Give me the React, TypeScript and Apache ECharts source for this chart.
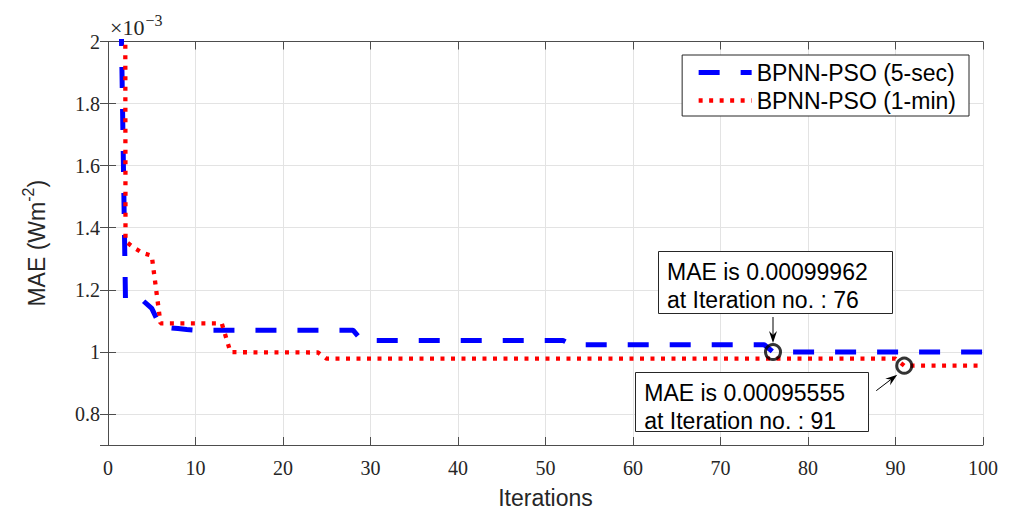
import React, { useEffect, useRef } from "react";
import * as echarts from "echarts";

// Data (MAE values in units of 1e-3, as plotted)
const seriesNames = ["BPNN-PSO (5-sec)", "BPNN-PSO (1-min)"];
const blueIter = [1, 2, 4, 5, 6, 7, 8, 9, 10, 28, 29, 52, 53, 75, 76, 100];
const blueMAE = [3.0, 1.165, 1.165, 1.14, 1.082, 1.078, 1.075, 1.072, 1.07, 1.07, 1.037, 1.037, 1.023, 1.023, 0.99962, 0.99962];
const redIter = [1, 2, 3, 4, 5, 6, 13, 14, 24, 25, 90, 91, 100];
const redMAE = [30, 1.356, 1.335, 1.318, 1.31, 1.092, 1.092, 0.999, 0.998, 0.978, 0.978, 0.95555, 0.95555];
const markIter = [76, 91];
const markMAE = [0.00099962, 0.00095555];
const xRange = [0, 100];
const xStep = 10;
const yRange = [0.7, 2];
const yStep = 0.2;
const expBase = "×10";
const expPower = "−3";

const SANS = '"Liberation Sans", Arial, sans-serif';
const SERIF = '"Liberation Serif", "Times New Roman", serif';
const AX = "#4d4d4d";
const TXT = "#262626";

function measure(text: string, font: string) {
  const c = document.createElement("canvas").getContext("2d");
  if (!c) return text.length * 10;
  c.font = font;
  return c.measureText(text).width;
}

function arrow(x1: number, y1: number, x2: number, y2: number) {
  const dx = x2 - x1, dy = y2 - y1;
  const L = Math.hypot(dx, dy);
  const ux = dx / L, uy = dy / L;
  const px = -uy, py = ux;
  const headLen = 12, headW = 4, notch = 8;
  const bx = x2 - ux * headLen, by = y2 - uy * headLen;
  const nx = x2 - ux * notch, ny = y2 - uy * notch;
  return [
    { type: "line", z: 100, shape: { x1, y1, x2: nx, y2: ny }, style: { stroke: "#000", lineWidth: 1 } },
    {
      type: "polygon", z: 100,
      shape: { points: [[x2, y2], [bx + px * headW, by + py * headW], [nx, ny], [bx - px * headW, by - py * headW]] },
      style: { fill: "#000" },
    },
  ];
}

function box(x: number, y: number, w: number, h: number, lines: string[]) {
  return [
    { type: "rect", z: 100, shape: { x: Math.round(x) + 0.5, y: Math.round(y) + 0.5, width: w, height: h }, style: { fill: "#fff", stroke: TXT, lineWidth: 1 } },
    {
      type: "text", z: 101,
      style: { text: lines.join("\n"), x: x + 9, y: y + 7, fontSize: 23, fontFamily: SANS, lineHeight: 28, verticalAlign: "top", fill: "#000" },
    },
  ];
}

export default function App() {
  const ref = useRef<HTMLDivElement>(null);
  useEffect(() => {
    document.body.style.margin = "0";
    const chart = echarts.init(ref.current!, null, { renderer: "svg" });
    const axisLine = { show: true, lineStyle: { color: AX, width: 1 } };
    const axisTick = { show: true, inside: true, length: 8, lineStyle: { color: AX, width: 1 } };
    const option: any = {
      animation: false,
      grid: { left: 108, right: 28, top: 41.5, bottom: 64, containLabel: false },
      legend: {
        data: seriesNames,
        orient: "vertical",
        right: 42,
        top: 55,
        padding: [6, 13, 4, 14],
        itemWidth: 53,
        itemHeight: 14,
        itemGap: 5,
        selectedMode: false,
        borderColor: TXT,
        borderWidth: 1,
        backgroundColor: "#fff",
        itemStyle: { opacity: 0 },
        lineStyle: { width: "inherit" },
        textStyle: { fontSize: 23, fontFamily: SANS, color: "#000" },
      },
      xAxis: [
        {
          type: "value", min: xRange[0], max: xRange[1], interval: xStep, position: "bottom",
          name: "Iterations", nameLocation: "middle", nameGap: 41,
          nameTextStyle: { fontSize: 23, fontFamily: SANS, color: TXT },
          axisLine, axisTick,
          axisLabel: { fontSize: 20, fontFamily: SERIF, color: TXT, margin: 13 },
          splitLine: { show: true, lineStyle: { color: "#e3e3e3", width: 1 } },
        },
        {
          type: "value", min: xRange[0], max: xRange[1], interval: xStep, position: "top",
          axisLine, axisTick, axisLabel: { show: false }, splitLine: { show: false },
        },
      ],
      yAxis: [
        {
          type: "value", min: yRange[0], max: yRange[1], splitNumber: 6, minInterval: yStep, maxInterval: yStep,
          position: "left",
          name: "{m|MAE (Wm}{sup|-2}{m|)}", nameLocation: "middle", nameGap: 60,
          nameTextStyle: {
            fontSize: 23, fontFamily: SANS, color: TXT,
            rich: {
              m: { fontSize: 23, fontFamily: SANS, color: TXT, lineHeight: 28, verticalAlign: "bottom" },
              sup: { fontSize: 16, fontFamily: SANS, color: TXT, lineHeight: 16, verticalAlign: "top" },
            },
          },
          axisLine, axisTick,
          axisLabel: { fontSize: 20, fontFamily: SERIF, color: TXT, margin: 8, showMinLabel: false },
          splitLine: { show: true, lineStyle: { color: "#e3e3e3", width: 1 } },
        },
        {
          type: "value", min: yRange[0], max: yRange[1], splitNumber: 6, minInterval: yStep, maxInterval: yStep,
          position: "right",
          axisLine, axisTick, axisLabel: { show: false }, splitLine: { show: false },
        },
      ],
      series: [
        {
          name: seriesNames[0], type: "line", symbol: "none", showSymbol: false,
          data: blueIter.map((x, i) => [x, blueMAE[i]]),
          lineStyle: { color: "#0000ff", width: 5, type: [21, 21], cap: "butt" },
          itemStyle: { color: "#0000ff" }, z: 3,
        },
        {
          name: seriesNames[1], type: "line", symbol: "none", showSymbol: false,
          data: redIter.map((x, i) => [x, redMAE[i]]),
          lineStyle: { color: "#ff0000", width: 4.3, type: [4, 6.5], cap: "butt" },
          itemStyle: { color: "#ff0000" }, z: 4,
        },
        {
          name: "marks", type: "scatter", symbol: "circle", symbolSize: 15,
          data: markIter.map((x, i) => [x, markMAE[i] * 1000]),
          itemStyle: { color: "rgba(0,0,0,0)", borderColor: "#000", borderWidth: 3 },
          z: 5,
        },
      ],
    };
    chart.setOption(option);
    const p = markIter.map((x, i) => chart.convertToPixel({ gridIndex: 0 }, [x, markMAE[i] * 1000]) as number[]);
    const grid = chart.convertToPixel({ gridIndex: 0 }, [xRange[0], yRange[1]]) as number[];
    const baseW = measure(expBase, `22px "Liberation Serif"`);
    const elements: any[] = [
      {
        type: "text", z: 100,
        style: { text: expBase, x: grid[0] + 2, y: grid[1] - 14.5, verticalAlign: "middle", fontSize: 22, fontFamily: SERIF, fill: TXT },
      },
      {
        type: "text", z: 100,
        style: { text: expPower, x: grid[0] + 3 + baseW, y: grid[1] - 21, verticalAlign: "middle", fontSize: 16, fontFamily: SERIF, fill: TXT },
      },
      ...box(p[0][0] - 115, p[0][1] - 101, 234, 62, [`MAE is ${markMAE[0]}`, `at Iteration no. : ${markIter[0]}`]),
      ...arrow(p[0][0], p[0][1] - 35, p[0][0], p[0][1] - 9),
      ...box(p[1][0] - 269, p[1][1] + 6, 233, 59, [`MAE is ${markMAE[1]}`, `at Iteration no. : ${markIter[1]}`]),
      ...arrow(p[1][0] - 28, p[1][1] + 25, p[1][0] - 7, p[1][1] + 9),
    ];
    chart.setOption({ graphic: { elements } });
    return () => chart.dispose();
  }, []);
  return <div ref={ref} style={{ width: 1011, height: 514 }} />;
}
